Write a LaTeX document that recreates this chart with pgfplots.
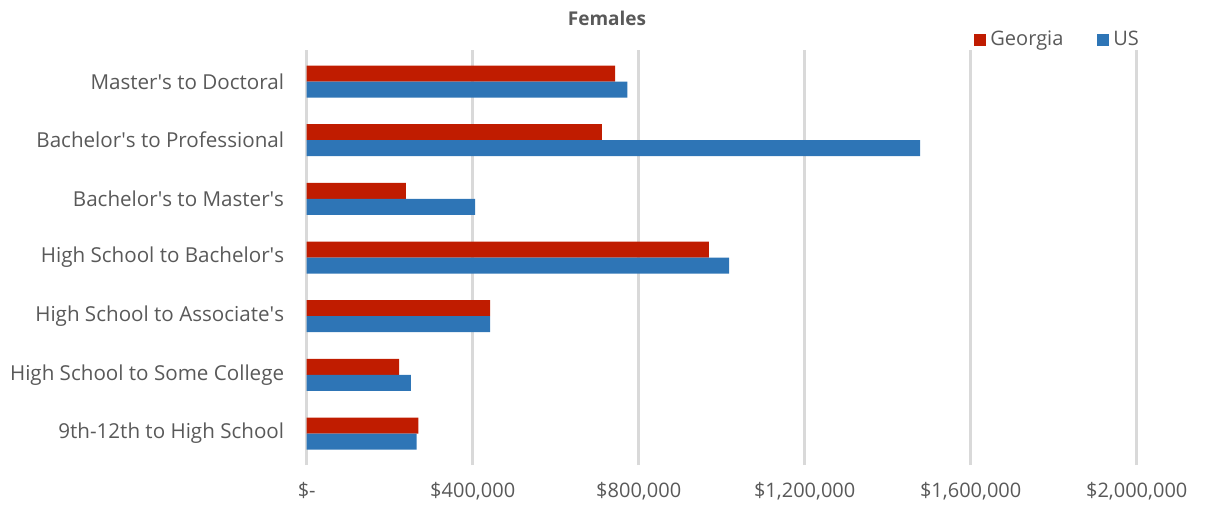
\documentclass[border=0pt]{standalone}
\usepackage{fontspec}
\setmainfont{Open Sans}
\usepackage{pgfplots}
\pgfplotsset{compat=1.18}
\definecolor{ga}{RGB}{192,28,0}
\definecolor{us}{RGB}{46,117,182}
\definecolor{gridc}{RGB}{217,217,217}
\definecolor{txt}{RGB}{89,89,89}
\newcommand{\q}{\textquotesingle}
\begin{document}
\begin{tikzpicture}
\begin{axis}[
 scale only axis, width=415pt, height=207.5pt,
 xbar, bar width=8pt,
 xmin=0, xmax=2000000,
 ymin=-0.537, ymax=6.537,
 xtick={0,400000,800000,1200000,1600000,2000000},
 xticklabels={{\$-}, {\$400,000}, {\$800,000}, {\$1,200,000}, {\$1,600,000}, {\$2,000,000}},
 ytick={0,1,2,3,4,5,6},
 yticklabels={{9th-12th to High School}, {High School to Some College}, {High School to Associate\q s}, {High School to Bachelor\q s}, {Bachelor\q s to Master\q s}, {Bachelor\q s to Professional}, {Master\q s to Doctoral}},
 xmajorgrids, major grid style={draw=gridc, line width=1.3pt},
 axis line style={draw=none},
 tick style={draw=none},
 scaled x ticks=false,
 ticklabel style={font=\fontsize{10}{12}\selectfont, text=txt},
 yticklabel style={xshift=-3.5pt, font=\fontsize{10.3}{12}\selectfont},
 xticklabel style={yshift=-5pt},
 legend columns=2,
 legend style={at={(0.804,1.024)}, anchor=west, draw=none, fill=none,
   font=\fontsize{10}{11}\selectfont, text=txt, inner sep=0pt,
   nodes={inner xsep=2pt},
   /tikz/every even column/.append style={column sep=15pt}},
 legend image code/.code={\fill[#1] (0pt,-3pt) rectangle (6pt,3pt);},
]
\addplot[fill=ga, draw=none, bar shift=4pt] coordinates {
 (269000,0) (223000,1) (442000,2) (969000,3) (239000,4) (711000,5) (743000,6)};
\addlegendentry{Georgia}
\addplot[fill=us, draw=none, bar shift=-4pt] coordinates {
 (265000,0) (251000,1) (442000,2) (1018000,3) (406000,4) (1478000,5) (773000,6)};
\addlegendentry{US}
\end{axis}
\node[font=\bfseries\fontsize{9.5}{11}\selectfont, text=txt] at (150.15pt,223.5pt) {Females};
\path[use as bounding box] (-153.35pt,-20.5pt) rectangle (451.15pt,232.5pt);
\end{tikzpicture}
\end{document}
